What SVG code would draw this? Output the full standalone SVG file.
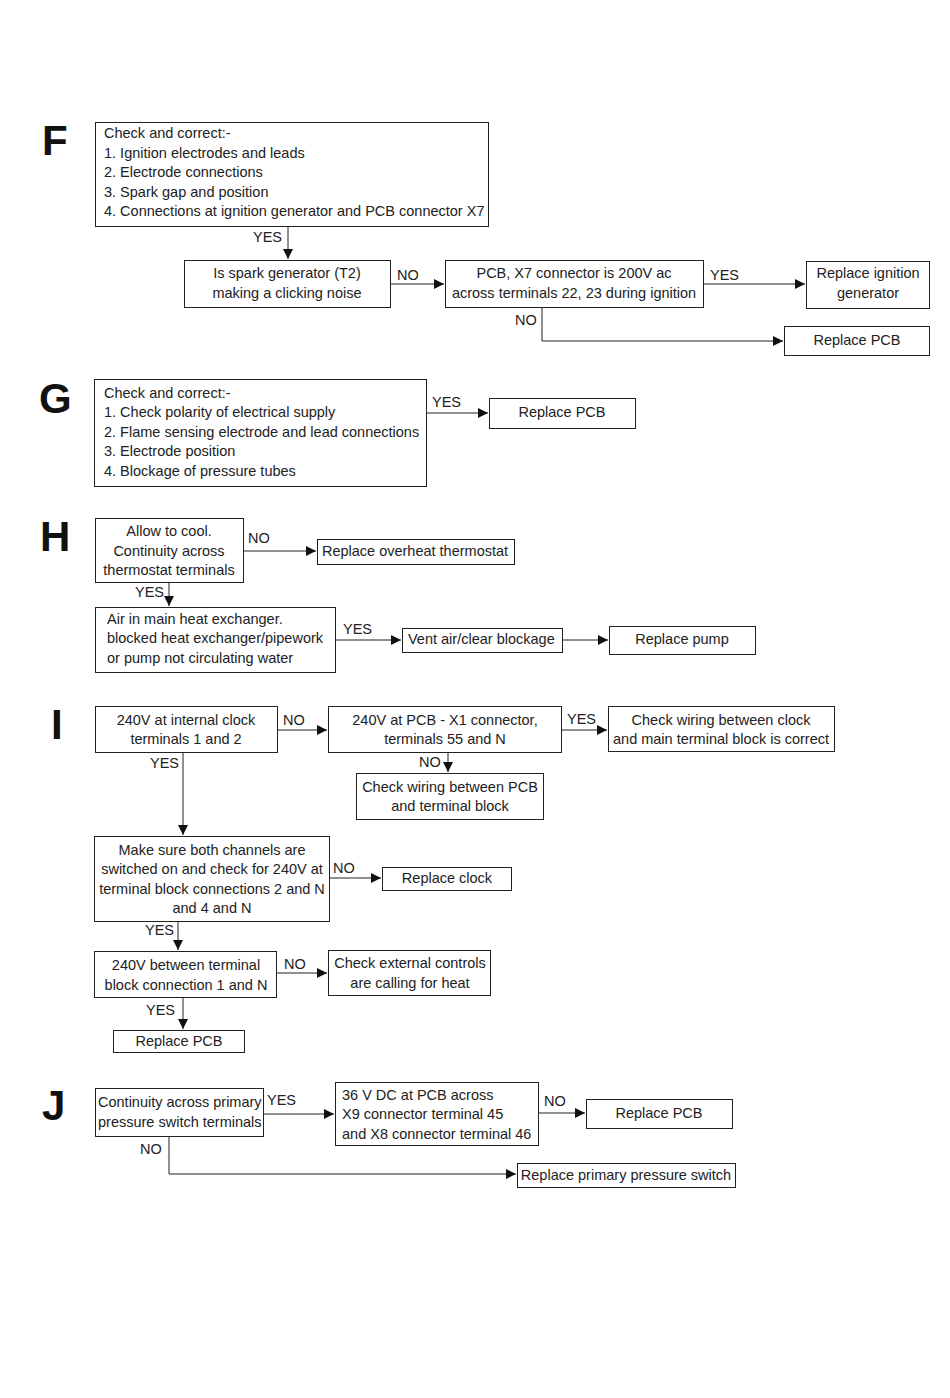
<svg xmlns="http://www.w3.org/2000/svg" width="950" height="1398" viewBox="0 0 950 1398">
<style>
rect{fill:#fff;stroke:#222;stroke-width:1}
text{font-family:"Liberation Sans",Arial,sans-serif;font-size:14.5px;fill:#222}
.c{text-anchor:middle}
.big{font-size:42px;font-weight:bold;fill:#111}
.ln{fill:none;stroke:#222;stroke-width:1}
</style>
<defs>
<marker id="a" viewBox="0 0 10 10" refX="10" refY="5" markerWidth="10" markerHeight="10" markerUnits="userSpaceOnUse" orient="auto"><path d="M0,0 L10,5 L0,10 z" fill="#111"/></marker>
</defs>
<rect x="0" y="0" width="950" height="1398" style="stroke:none"/>
<g id="letters">
<text class="big" x="42" y="155">F</text>
<text class="big" x="39" y="413">G</text>
<text class="big" x="40" y="551">H</text>
<text class="big" x="51" y="739">I</text>
<text class="big" x="42" y="1120">J</text>
</g>
<g id="connectors">
<path class="ln" d="M288,226 V259" marker-end="url(#a)"/>
<path class="ln" d="M390,284 H444" marker-end="url(#a)"/>
<path class="ln" d="M703,284 H805" marker-end="url(#a)"/>
<path class="ln" d="M542,307 V341 H783" marker-end="url(#a)"/>
<path class="ln" d="M426,413 H488" marker-end="url(#a)"/>
<path class="ln" d="M243,551 H316" marker-end="url(#a)"/>
<path class="ln" d="M169,582 V606" marker-end="url(#a)"/>
<path class="ln" d="M335,640 H401" marker-end="url(#a)"/>
<path class="ln" d="M562,640 H608" marker-end="url(#a)"/>
<path class="ln" d="M277,730 H327" marker-end="url(#a)"/>
<path class="ln" d="M561,730 H607" marker-end="url(#a)"/>
<path class="ln" d="M448,752 V772" marker-end="url(#a)"/>
<path class="ln" d="M183,752 V835" marker-end="url(#a)"/>
<path class="ln" d="M329,878 H381" marker-end="url(#a)"/>
<path class="ln" d="M178,921 V950" marker-end="url(#a)"/>
<path class="ln" d="M276,973 H327" marker-end="url(#a)"/>
<path class="ln" d="M183,997 V1029" marker-end="url(#a)"/>
<path class="ln" d="M263,1114 H334" marker-end="url(#a)"/>
<path class="ln" d="M538,1113 H585" marker-end="url(#a)"/>
<path class="ln" d="M169,1136 V1174 H516" marker-end="url(#a)"/>
<text x="253" y="242">YES</text>
<text x="397" y="280">NO</text>
<text x="710" y="280">YES</text>
<text x="515" y="325">NO</text>
<text x="432" y="407">YES</text>
<text x="248" y="543">NO</text>
<text x="135" y="597">YES</text>
<text x="343" y="634">YES</text>
<text x="283" y="725">NO</text>
<text x="567" y="724">YES</text>
<text x="419" y="767">NO</text>
<text x="150" y="768">YES</text>
<text x="333" y="873">NO</text>
<text x="145" y="935">YES</text>
<text x="284" y="969">NO</text>
<text x="146" y="1015">YES</text>
<text x="267" y="1105">YES</text>
<text x="544" y="1106">NO</text>
<text x="140" y="1154">NO</text>
</g>
<g id="F1"><rect x="95.5" y="122.5" width="393" height="104"/>
<text x="104" y="138">Check and correct:-</text>
<text x="104" y="158">1. Ignition electrodes and leads</text>
<text x="104" y="177">2. Electrode connections</text>
<text x="104" y="197">3. Spark gap and position</text>
<text x="104" y="216">4. Connections at ignition generator and PCB connector X7</text></g>
<g id="F2"><rect x="184.5" y="260.5" width="206" height="47"/>
<text class="c" x="287" y="278">Is spark generator (T2)</text>
<text class="c" x="287" y="298">making a clicking noise</text></g>
<g id="F3"><rect x="445.5" y="260.5" width="258" height="47"/>
<text class="c" x="574" y="278">PCB, X7 connector is 200V ac</text>
<text class="c" x="574" y="298">across terminals 22, 23 during ignition</text></g>
<g id="F4"><rect x="806.5" y="261.5" width="123" height="47"/>
<text class="c" x="868" y="278">Replace ignition</text>
<text class="c" x="868" y="298">generator</text></g>
<g id="F5"><rect x="784.5" y="326.5" width="145" height="29"/>
<text class="c" x="857" y="345">Replace PCB</text></g>
<g id="G1"><rect x="94.5" y="379.5" width="332" height="107"/>
<text x="104" y="398">Check and correct:-</text>
<text x="104" y="417">1. Check polarity of electrical supply</text>
<text x="104" y="437">2. Flame sensing electrode and lead connections</text>
<text x="104" y="456">3. Electrode position</text>
<text x="104" y="476">4. Blockage of pressure tubes</text></g>
<g id="G2"><rect x="489.5" y="398.5" width="146" height="30"/>
<text class="c" x="562" y="417">Replace PCB</text></g>
<g id="H1"><rect x="95.5" y="518.5" width="148" height="64"/>
<text class="c" x="169" y="536">Allow to cool.</text>
<text class="c" x="169" y="556">Continuity across</text>
<text class="c" x="169" y="575">thermostat terminals</text></g>
<g id="H2"><rect x="317.5" y="539.5" width="197" height="25"/>
<text class="c" x="415" y="556">Replace overheat thermostat</text></g>
<g id="H3"><rect x="95.5" y="607.5" width="240" height="65"/>
<text x="107" y="624">Air in main heat exchanger.</text>
<text x="107" y="643">blocked heat exchanger/pipework</text>
<text x="107" y="663">or pump not circulating water</text></g>
<g id="H4"><rect x="402.5" y="628.5" width="160" height="24"/>
<text x="408" y="644">Vent air/clear blockage</text></g>
<g id="H5"><rect x="609.5" y="626.5" width="146" height="28"/>
<text class="c" x="682" y="644">Replace pump</text></g>
<g id="I1"><rect x="95.5" y="706.5" width="182" height="46"/>
<text class="c" x="186" y="725">240V at internal clock</text>
<text class="c" x="186" y="744">terminals 1 and 2</text></g>
<g id="I2"><rect x="328.5" y="706.5" width="233" height="46"/>
<text class="c" x="445" y="725">240V at PCB - X1 connector,</text>
<text class="c" x="445" y="744">terminals 55 and N</text></g>
<g id="I3"><rect x="608.5" y="706.5" width="226" height="45"/>
<text class="c" x="721" y="725">Check wiring between clock</text>
<text class="c" x="721" y="744">and main terminal block is correct</text></g>
<g id="I4"><rect x="356.5" y="773.5" width="187" height="46"/>
<text class="c" x="450" y="792">Check wiring between PCB</text>
<text class="c" x="450" y="811">and terminal block</text></g>
<g id="I5"><rect x="94.5" y="836.5" width="235" height="85"/>
<text class="c" x="212" y="855">Make sure both channels are</text>
<text class="c" x="212" y="874">switched on and check for 240V at</text>
<text class="c" x="212" y="894">terminal block connections 2 and N</text>
<text class="c" x="212" y="913">and 4 and N</text></g>
<g id="I6"><rect x="382.5" y="867.5" width="129" height="23"/>
<text class="c" x="447" y="883">Replace clock</text></g>
<g id="I7"><rect x="94.5" y="951.5" width="182" height="46"/>
<text class="c" x="186" y="970">240V between terminal</text>
<text class="c" x="186" y="990">block connection 1 and N</text></g>
<g id="I8"><rect x="328.5" y="950.5" width="162" height="45"/>
<text class="c" x="410" y="968">Check external controls</text>
<text class="c" x="410" y="988">are calling for heat</text></g>
<g id="I9"><rect x="113.5" y="1030.5" width="131" height="22"/>
<text class="c" x="179" y="1046">Replace PCB</text></g>
<g id="J1"><rect x="95.5" y="1088.5" width="168" height="48"/>
<text x="98" y="1107">Continuity across primary</text>
<text x="98" y="1127">pressure switch terminals</text></g>
<g id="J2"><rect x="335.5" y="1082.5" width="203" height="63"/>
<text x="342" y="1100">36 V DC at PCB across</text>
<text x="342" y="1119">X9 connector terminal 45</text>
<text x="342" y="1139">and X8 connector terminal 46</text></g>
<g id="J3"><rect x="586.5" y="1099.5" width="146" height="29"/>
<text class="c" x="659" y="1118">Replace PCB</text></g>
<g id="J4"><rect x="517.5" y="1163.5" width="218" height="24"/>
<text class="c" x="626" y="1180">Replace primary pressure switch</text></g>
</svg>
